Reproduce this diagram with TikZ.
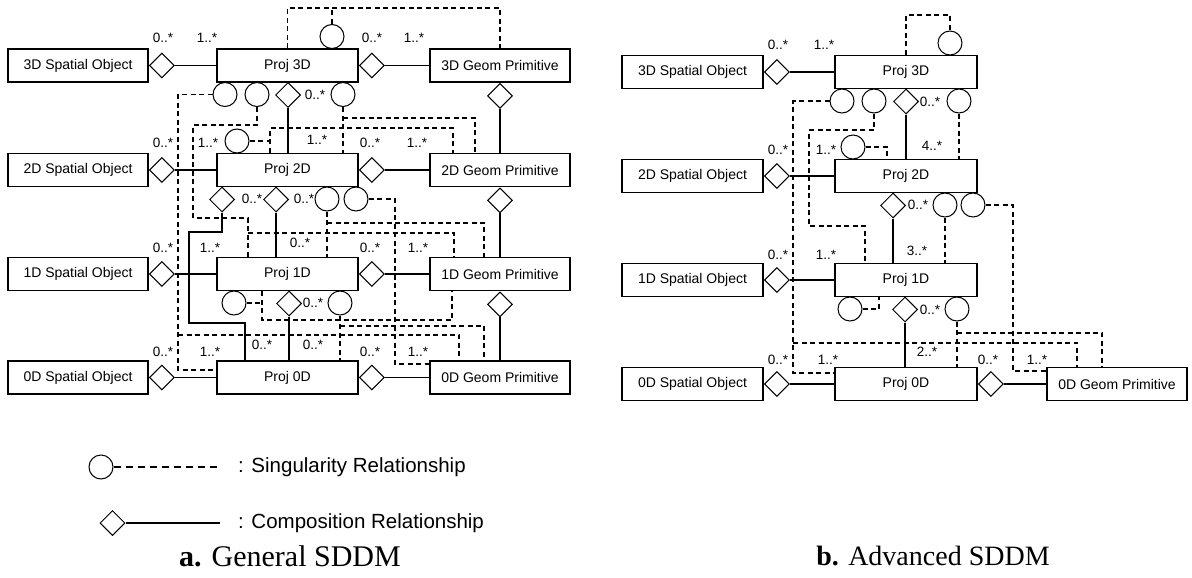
\documentclass[tikz,border=0pt]{standalone}
\usepackage{fontspec}
\setmainfont{Liberation Serif}
\newfontfamily\arialf{Liberation Sans}
\usetikzlibrary{shapes.geometric,calc}
\begin{document}
\begin{tikzpicture}[x=1pt,y=-1pt,
  box/.style={draw, line width=1.8pt, minimum height=33pt, inner sep=0pt, fill=white, font=\arialf\fontsize{14}{16}\selectfont},
  dia/.style={draw, diamond, line width=1pt, minimum width=25pt, minimum height=25pt, inner sep=0pt, fill=white},
  circ/.style={draw, circle, line width=1pt, minimum size=24pt, inner sep=0pt, fill=white},
  comp/.style={line width=1.8pt},
  sing/.style={line width=1.8pt, dash pattern=on 5pt off 3.5pt},
  mult/.style={font=\arialf\fontsize{13.5}{15}\selectfont, inner sep=0pt},
  legt/.style={font=\arialf\fontsize{20.5}{23}\selectfont, inner sep=0pt, anchor=west},
  capt/.style={font=\fontsize{28}{32}\selectfont, inner sep=0pt},
]
\path[use as bounding box] (0,0) rectangle (1192,578);

% ================= Diagram a =================
\node[box, minimum width=140pt] (S3) at (78,65.5) {3D Spatial Object};
\node[box, minimum width=140pt] (S2) at (78,170) {2D Spatial Object};
\node[box, minimum width=140pt] (S1) at (78,274) {1D Spatial Object};
\node[box, minimum width=140pt] (S0) at (78,377.5) {0D Spatial Object};
\node[box, minimum width=141pt] (P3) at (287.5,65.5) {Proj 3D};
\node[box, minimum width=141pt] (P2) at (287.5,170) {Proj 2D};
\node[box, minimum width=141pt] (P1) at (287.5,274) {Proj 1D};
\node[box, minimum width=141pt] (P0) at (287.5,377.5) {Proj 0D};
\node[box, minimum width=140pt] (G3) at (500,65.5) {3D Geom Primitive};
\node[box, minimum width=140pt] (G2) at (500,170) {2D Geom Primitive};
\node[box, minimum width=140pt] (G1) at (500,274) {1D Geom Primitive};
\node[box, minimum width=140pt] (G0) at (500,377.5) {0D Geom Primitive};

% row compositions
\foreach \r in {3,2,1,0}{
  \node[dia, anchor=west] (dS\r) at (S\r.east) {};
  \draw[comp] (dS\r.east) -- (P\r.west);
  \node[dia, anchor=west] (dP\r) at (P\r.east) {};
  \draw[comp] (dP\r.east) -- (G\r.west);
}
\foreach \r/\s in {3/2,2/1,1/0}{
  \node[dia, anchor=north] (dG\r) at (G\r.south) {};
  \draw[comp] (dG\r.south) -- (G\s.north);
}

% shapes around Proj boxes
\node[circ, anchor=south] (cT) at (332,49) {};
\node[circ, anchor=north] (cA) at (225,82) {};
\node[circ, anchor=north] (cB) at (257,82) {};
\node[dia, anchor=north] (dV3) at (288,82) {};
\node[circ, anchor=north] (cD) at (343,82) {};
\node[circ, anchor=south] (cC) at (237,153.5) {};
\node[dia, anchor=north] (dI) at (222,186.5) {};
\node[dia, anchor=north] (dJ) at (276,186.5) {};
\node[circ, anchor=north] (cG) at (327,186.5) {};
\node[circ, anchor=north] (cH) at (356,186.5) {};
\node[circ, anchor=north] (cE) at (234,290.5) {};
\node[dia, anchor=north] (dK) at (289,290.5) {};
\node[circ, anchor=north] (cF) at (340,290.5) {};

% coordinates for routing
\coordinate (ta) at (332,8);
\coordinate (a2) at (178,370);
\coordinate (a3) at (178,335);
\coordinate (b1) at (193,125);
\coordinate (b2) at (248,218);
\coordinate (b3) at (248,233);
\coordinate (d1) at (343,118);
\coordinate (c1) at (270,128);
\coordinate (g1) at (327,223);
\coordinate (h1) at (395,364);
\coordinate (e1) at (262,320);
\coordinate (f1) at (340,326);
\coordinate (i1) at (189,232);
\coordinate (i2) at (245,323);

% singularity (dashed)
\draw[sing] (P3.north) |- (ta) -| (G3.north);
\draw[sing] (cT.north) -- (ta);
\draw[sing] (cA.west) -| (a2) -- (a2 -| P0.west);
\draw[sing] (a3) -| ([xshift=30pt]G0.north west);
\draw[sing] (cB.south) |- (b1) |- (b2) -- (b2 |- P1.north);
\draw[sing] (b3) -| ([xshift=25pt]G1.north west);
\draw[sing] (cD.south) -- (cD.south |- P2.north);
\draw[sing] (d1) -| ([xshift=46pt]G2.north west);
\draw[sing] (c1 |- P2.north) -- (c1) -| ([xshift=24pt]G2.north west);
\draw[sing] (cC.east) -- (cC.east -| c1);
\draw[sing] (cG.south) -- (cG.south |- P1.north);
\draw[sing] (g1) -| ([xshift=55pt]G1.north west);
\draw[sing] (cH.east) -| (h1) -- (h1 -| G0.west);
\draw[sing] (e1 |- P1.south) -- (e1) -| ([xshift=23pt]G1.south west);
\draw[sing] (cE.east) -- (cE.east -| e1);
\draw[sing] (cF.south) -- (cF.south |- P0.north);
\draw[sing] (f1) -| ([xshift=55pt]G0.north west);

% composition (solid)
\draw[comp] (dV3.south) -- (dV3.south |- P2.north);
\draw[comp] (dI.south) |- (i1) |- (i2) -- (i2 |- P0.north);
\draw[comp] (dJ.south) -- (dJ.south |- P1.north);
\draw[comp] (dK.south) -- (dK.south |- P0.north);

% multiplicities a
\node[mult] (la1) at (163,38) {0..*};
\node[mult] (la2) at (207,38) {1..*};
\node[mult] (la3) at (372,38) {0..*};
\node[mult] (la4) at (414,38) {1..*};
\node[mult] (la5) at (163,143) {0..*};
\node[mult] (la6) at (208,143) {1..*};
\node[mult] (la7) at (317,140) {1..*};
\node[mult] (la8) at (370,143) {0..*};
\node[mult] (la9) at (417,143) {1..*};
\node[mult] (la10) at (315,95) {0..*};
\node[mult] (la11) at (252,199) {0..*};
\node[mult] (la12) at (304,199) {0..*};
\node[mult] (la13) at (163,248) {0..*};
\node[mult] (la14) at (210,248) {1..*};
\node[mult] (la15) at (300,243) {0..*};
\node[mult] (la16) at (370,248) {0..*};
\node[mult] (la17) at (418,248) {1..*};
\node[mult] (la18) at (313,303) {0..*};
\node[mult] (la19) at (163,352) {0..*};
\node[mult] (la20) at (210,352) {1..*};
\node[mult] (la21) at (262,345) {0..*};
\node[mult] (la22) at (313,345) {0..*};
\node[mult] (la23) at (370,352) {0..*};
\node[mult] (la24) at (418,352) {1..*};

% ================= Diagram b =================
\node[box, minimum width=141pt] (T3) at (692.5,72) {3D Spatial Object};
\node[box, minimum width=141pt] (T2) at (692.5,176) {2D Spatial Object};
\node[box, minimum width=141pt] (T1) at (692.5,280) {1D Spatial Object};
\node[box, minimum width=141pt] (T0) at (692.5,384) {0D Spatial Object};
\node[box, minimum width=142pt] (Q3) at (906,72) {Proj 3D};
\node[box, minimum width=142pt] (Q2) at (906,176) {Proj 2D};
\node[box, minimum width=142pt] (Q1) at (906,280) {Proj 1D};
\node[box, minimum width=142pt] (Q0) at (906,384) {Proj 0D};
\node[box, minimum width=140pt] (H0) at (1117,384) {0D Geom Primitive};

\foreach \r in {3,2,1,0}{
  \node[dia, anchor=west] (dT\r) at (T\r.east) {};
  \draw[comp] (dT\r.east) -- (Q\r.west);
}
\node[dia, anchor=west] (dQ0) at (Q0.east) {};
\draw[comp] (dQ0.east) -- (H0.west);

\node[circ, anchor=south] (kT) at (950,55.5) {};
\node[circ, anchor=north] (kA) at (842,88.5) {};
\node[circ, anchor=north] (kB) at (874,88.5) {};
\node[dia, anchor=north] (eV3) at (906,88.5) {};
\node[circ, anchor=north] (kD) at (959,88.5) {};
\node[circ, anchor=south] (kC) at (853,159.5) {};
\node[dia, anchor=north] (eI) at (893,192.5) {};
\node[circ, anchor=north] (kG) at (945,192.5) {};
\node[circ, anchor=north] (kH) at (973,192.5) {};
\node[circ, anchor=north] (kE) at (850,296.5) {};
\node[dia, anchor=north] (eK) at (905,296.5) {};
\node[circ, anchor=north] (kF) at (957,296.5) {};

\coordinate (tb) at (950,15);
\coordinate (ab2) at (793,373);
\coordinate (ab3) at (793,343);
\coordinate (bb1) at (809,130);
\coordinate (bb2) at (865,226);
\coordinate (hb1) at (1013,371);
\coordinate (fb1) at (957,333);

\draw[sing] (Q3.north) |- (tb) -- (kT.north);
\draw[sing] (kA.west) -| (ab2) -- (ab2 -| Q0.west);
\draw[sing] (ab3) -| ([xshift=31pt]H0.north west);
\draw[sing] (kB.south) |- (bb1) |- (bb2) -- (bb2 |- Q1.north);
\draw[sing] (kD.south) -- (kD.south |- Q2.north);
\draw[sing] (kC.east) -| ([xshift=53pt]Q2.north west);
\draw[sing] (kG.south) -- (kG.south |- Q1.north);
\draw[sing] (kH.east) -| (hb1) -- (hb1 -| H0.west);
\draw[sing] (kE.east) -| ([xshift=45pt]Q1.south west);
\draw[sing] (kF.south) -- (kF.south |- Q0.north);
\draw[sing] (fb1) -| ([xshift=56pt]H0.north west);

\draw[comp] (eV3.south) -- (eV3.south |- Q2.north);
\draw[comp] (eI.south) -- (eI.south |- Q1.north);
\draw[comp] (eK.south) -- (eK.south |- Q0.north);

\node[mult] (lb1) at (778,45) {0..*};
\node[mult] (lb2) at (824,45) {1..*};
\node[mult] (lb3) at (778,150) {0..*};
\node[mult] (lb4) at (826,150) {1..*};
\node[mult] (lb5) at (778,255) {0..*};
\node[mult] (lb6) at (826,255) {1..*};
\node[mult] (lb7) at (778,360) {0..*};
\node[mult] (lb8) at (828,360) {1..*};
\node[mult] (lb9) at (930,102) {0..*};
\node[mult] (lb10) at (932,146) {4..*};
\node[mult] (lb11) at (918,205) {0..*};
\node[mult] (lb12) at (917,251) {3..*};
\node[mult] (lb13) at (930,310) {0..*};
\node[mult] (lb14) at (927,352) {2..*};
\node[mult] (lb15) at (988,360) {0..*};
\node[mult] (lb16) at (1037,360) {1..*};

% ================= Legend & captions =================
\node[circ] (cL) at (101,467) {};
\coordinate (le1) at (220,467);
\draw[sing, dash pattern=on 7pt off 5pt] (cL.east) -- (le1);
\node[legt] (tL1) at (238,467) {: Singularity Relationship};
\node[dia] (dL) at (112.5,523) {};
\coordinate (le2) at (220,523);
\draw[comp] (dL.east) -- (le2);
\node[legt] (tL2) at (238,523) {: Composition Relationship};

\node[capt, font=\fontsize{30}{34}\selectfont] (capa) at (290,556) {\textbf{a.} General SDDM};
\node[capt] (capb) at (933,556) {\textbf{b.} Advanced SDDM};
\end{tikzpicture}
\end{document}
